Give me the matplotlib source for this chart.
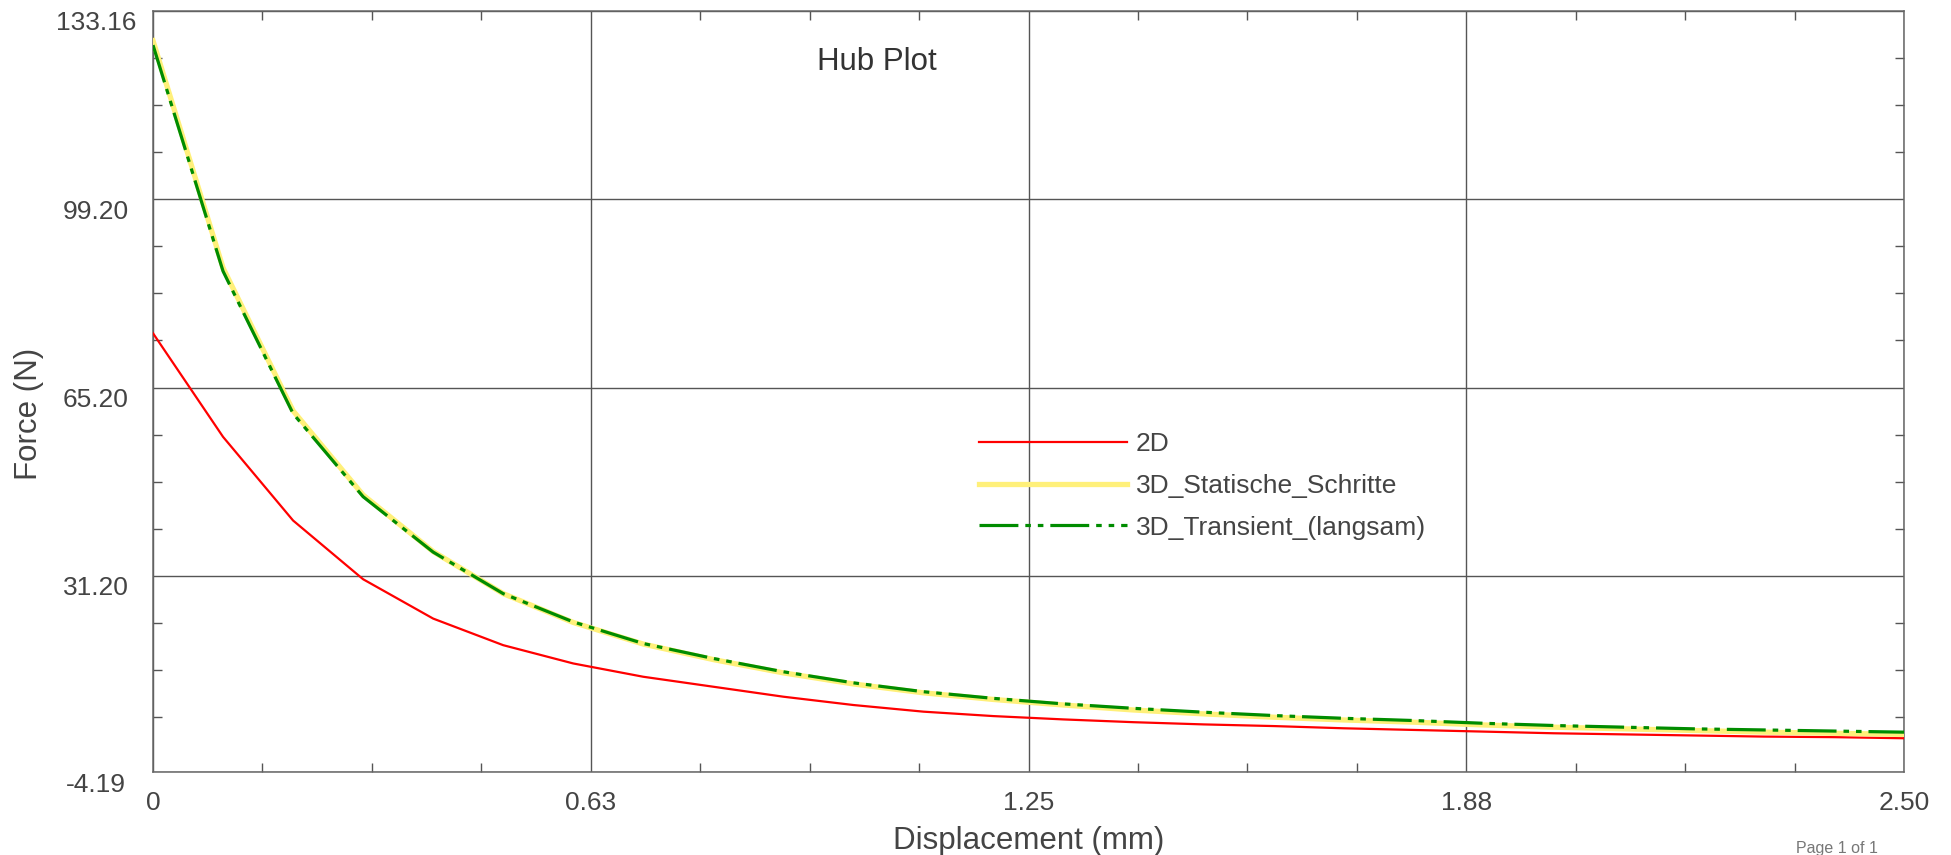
import matplotlib
matplotlib.use("Agg")
import matplotlib.pyplot as plt
import matplotlib.transforms as mtransforms
import numpy as np

plt.rcParams['font.family'] = ['Liberation Sans', 'DejaVu Sans']
plt.rcParams['lines.scale_dashes'] = False

# Daten
displacement = [0.0, 0.1, 0.2, 0.3, 0.4, 0.5, 0.6, 0.7, 0.8, 0.9, 1.0, 1.1, 1.2,
                1.3, 1.4, 1.5, 1.6, 1.7, 1.8, 1.9, 2.0, 2.1, 2.2, 2.3, 2.4, 2.5]
force_2d = [75.0, 56.3, 41.2, 30.6, 23.5, 18.7, 15.4, 13.0, 11.2, 9.4, 7.9, 6.7, 5.9,
            5.3, 4.8, 4.4, 4.1, 3.7, 3.4, 3.1, 2.8, 2.6, 2.4, 2.2, 2.1, 1.9]
force_3d_static = [127.8, 86.8, 61.0, 45.8, 35.6, 28.0, 22.8, 18.9, 16.1, 13.7, 11.7, 10.1, 8.9,
                   7.9, 7.0, 6.3, 5.7, 5.2, 4.8, 4.3, 3.9, 3.6, 3.3, 3.0, 2.8, 2.6]
force_3d_transient = [127.0, 86.2, 60.5, 45.5, 35.5, 28.0, 22.9, 19.0, 16.3, 13.9, 11.9, 10.3, 9.1,
                      8.1, 7.3, 6.6, 6.0, 5.5, 5.1, 4.6, 4.2, 3.9, 3.6, 3.4, 3.2, 3.0]
series_labels = ['2D', '3D_Statische_Schritte', '3D_Transient_(langsam)']

x_ticks = [0.0, 0.625, 1.25, 1.875, 2.5]
x_ticklabels = ['0', '0.63', '1.25', '1.88', '2.50']
y_ticks = [-4.19, 31.20, 65.20, 99.20, 133.16]
y_ticklabels = ['-4.19', '31.20', '65.20', '99.20', '133.16']

fig = plt.figure(figsize=(19.51, 8.55), dpi=100)
ax = fig.add_axes([153/1951, 83/855, 1751/1951, 761/855])

ax.plot(displacement, force_2d, color='#ff0000', lw=1.6, label=series_labels[0], zorder=3)
ax.plot(displacement, force_3d_static, color='#fff07a', lw=3.8, label=series_labels[1], zorder=4)
ax.plot(displacement, force_3d_transient, color='#008c00', lw=2.3, label=series_labels[2],
        dashes=(28, 5, 4, 5, 4, 5), zorder=5)

ax.set_xlim(0, 2.5)
ax.set_ylim(-4.19, 133.16)

ax.set_xticks(x_ticks)
ax.set_xticklabels(x_ticklabels)
ax.set_yticks(y_ticks)
ax.set_yticklabels(y_ticklabels)
ax.set_xticks(np.arange(0, 2.5001, 0.15625), minor=True)
ax.set_yticks(np.arange(31.2 - 8.5 * 3, 133.16, 8.5), minor=True)

ax.grid(True, which='major', color='#555555', lw=1.0)
ax.tick_params(which='major', length=0, labelsize=19, colors='#444444')
ax.tick_params(axis='x', which='major', pad=14)
ax.tick_params(axis='y', which='major', pad=41)
ax.tick_params(which='minor', direction='in', length=6.5, width=1.0, color='#555555',
               top=True, right=True)
for lab in ax.get_yticklabels():
    lab.set_ha('center')
    lab.set_transform(lab.get_transform() +
                      mtransforms.ScaledTranslation(0, -10/100, fig.dpi_scale_trans))

for sp in ax.spines.values():
    sp.set_color('#666666')
    sp.set_linewidth(1.1)

ax.set_xlabel('Displacement (mm)', fontsize=22.5, color='#444444', va='center')
ax.xaxis.set_label_coords(0.5, -0.091)
ax.set_ylabel('Force (N)', fontsize=22.5, color='#444444', va='center')
ax.yaxis.set_label_coords(-0.0707, 0.47)

ax.text(0.4135, 0.933, 'Hub Plot', transform=ax.transAxes, fontsize=22.5,
        color='#333333', ha='center', va='center')

ax.legend(loc='upper left', bbox_to_anchor=(0.4717, 0.447), frameon=False,
          fontsize=19, handlelength=5.6, handletextpad=0.35, labelspacing=0.68,
          borderpad=0, borderaxespad=0, labelcolor='#444444')

fig.text(1837/1951, 2/855, 'Page 1 of 1', fontsize=11.5, color='#777777',
         ha='center', va='baseline')

plt.savefig('out.png', dpi=100)
